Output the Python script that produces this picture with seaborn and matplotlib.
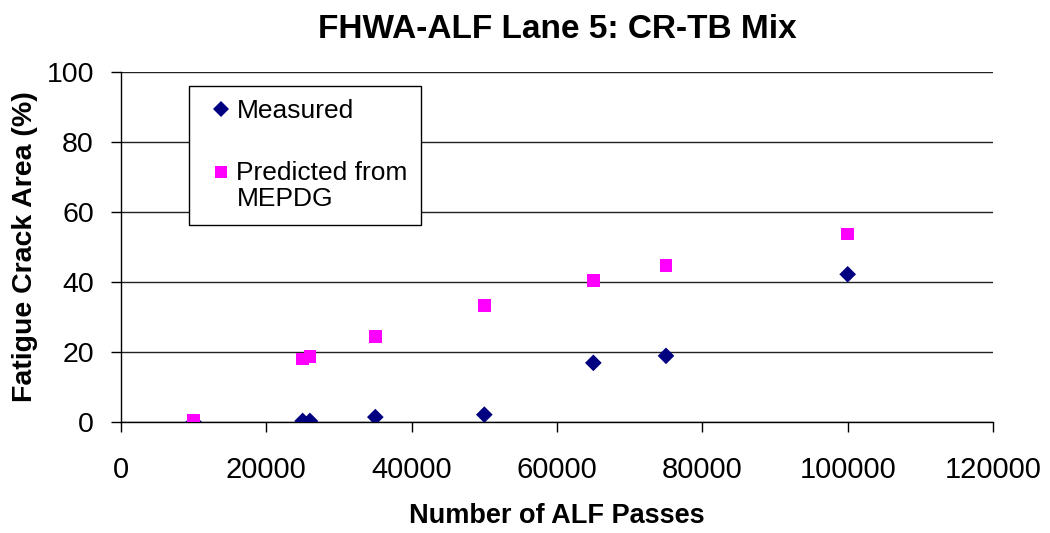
import matplotlib
matplotlib.use("Agg")
import matplotlib.pyplot as plt
from matplotlib.lines import Line2D
import seaborn as sns
import numpy as np

passes_measured = [10000, 25000, 26000, 35000, 50000, 65000, 75000, 100000]
measured = [0.0, 0.3, 0.3, 1.4, 2.1, 16.9, 18.9, 42.2]
passes_predicted = [10000, 25000, 26000, 35000, 50000, 65000, 75000, 100000]
predicted = [0.5, 18.0, 18.6, 24.5, 33.3, 40.5, 44.8, 53.7]

series_names = ["Measured", "Predicted from\nMEPDG"]
colors = ["#000080", "#FF00FF"]
markers = ["D", "s"]

sns.set_style("white")
plt.rcParams["font.family"] = ["Liberation Sans", "DejaVu Sans"]
plt.rcParams.update({"text.color": "black", "axes.labelcolor": "black",
                     "xtick.color": "black", "ytick.color": "black"})

fig = plt.figure(figsize=(10.5, 5.33), dpi=100)
ax = fig.add_axes([121/1050, 1 - 422/533, (993-121)/1050, (422-72)/533])

sns.scatterplot(x=passes_measured, y=measured, marker=markers[0], color=colors[0],
                s=72, edgecolor="none", ax=ax, zorder=3, legend=False)
sns.scatterplot(x=passes_predicted, y=predicted, marker=markers[1], color=colors[1],
                s=85, edgecolor="none", ax=ax, zorder=3, legend=False)

ax.set_xlim(0, 120000)
ax.set_ylim(0, 100)
ax.set_xticks(range(0, 120001, 20000))
ax.set_yticks(range(0, 101, 20))
ax.tick_params(axis="both", labelsize=21, direction="out", length=7.5, width=1,
               color="black", labelcolor="black", bottom=True, left=True)
ax.tick_params(axis="x", pad=17)
ax.tick_params(axis="y", pad=12, labelsize=20.5)
ax.yaxis.grid(True, color="#222222", linewidth=1)
ax.set_axisbelow(True)
for s in ["top", "right"]:
    ax.spines[s].set_visible(False)
for s in ["left", "bottom"]:
    ax.spines[s].set_color("black")
    ax.spines[s].set_linewidth(1)

ax.set_title("FHWA-ALF Lane 5: CR-TB Mix", fontsize=24, fontweight="bold", pad=24.5)
ax.set_xlabel("Number of ALF Passes", fontsize=19.5, fontweight="bold", labelpad=14)
ax.set_ylabel("Fatigue Crack Area (%)", fontsize=20.5, fontweight="bold", labelpad=6)

handles = [
    Line2D([], [], marker=markers[0], ls="", color=colors[0], markeredgewidth=0, markersize=8.5),
    Line2D([], [], marker=markers[1], ls="", color=colors[1], markeredgewidth=0, markersize=8),
]
leg = ax.legend(handles, series_names, loc="upper left",
                bbox_to_anchor=(189/1050, 1 - 86/533), bbox_transform=fig.transFigure,
                borderaxespad=0, fontsize=19, frameon=True, fancybox=False, framealpha=1,
                edgecolor="black", labelspacing=1.45, handletextpad=0.05,
                handlelength=1.25, borderpad=0.5)
leg.get_frame().set_linewidth(1)
leg.texts[1].set_linespacing(1.1)
# marker of the two-line entry sits on its first line
for h in leg.legend_handles:
    h.set_xdata(np.asarray(h.get_xdata(), dtype=float) + 1.7)
h = leg.legend_handles[1]
h.set_ydata(np.asarray(h.get_ydata(), dtype=float) + 10.5)

fig.savefig("out.png", dpi=100)
